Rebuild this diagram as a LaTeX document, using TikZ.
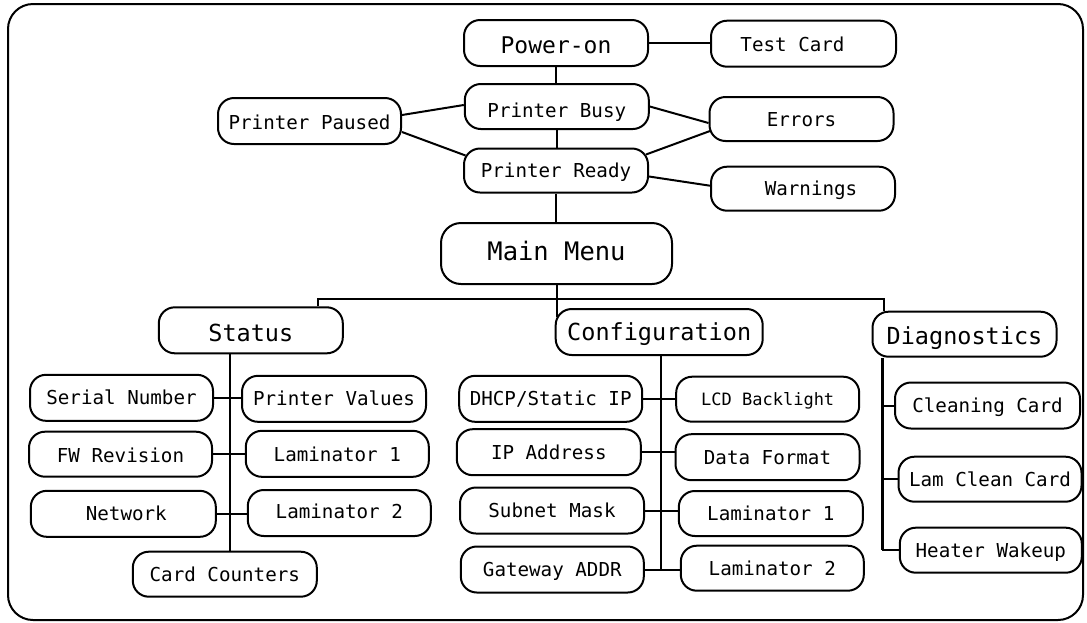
\documentclass[tikz,border=0pt]{standalone}
\usepackage{fontspec}
\newfontfamily\monof{DejaVu Sans Mono}
\begin{document}
\begin{tikzpicture}[x=1pt,y=-1pt,
  mbox/.style={draw, line width=2pt, rounded corners=16pt, inner sep=0pt,
    font=\monof\fontsize{19.2}{23}\selectfont, text height=14pt, text depth=0pt},
  head/.style={font=\monof\fontsize{23.5}{28}\selectfont, text height=17.2pt},
  conn/.style={line width=2pt}]
\useasboundingbox (0,0) rectangle (1087,622);
\draw[line width=2pt, rounded corners=25pt] (8,4) rectangle (1083,620);
% top part
\node[mbox, font=\monof\fontsize{23}{28}\selectfont, text height=16.8pt, minimum width=184pt, minimum height=46pt] (power) at (556,43) {\raisebox{-2pt}{Power-on}};
\node[mbox, minimum width=185pt, minimum height=46pt] (test) at (803.5,43.7) {\raisebox{-1pt}{Test Card}\hspace*{22pt}};
\node[mbox, minimum width=183pt, minimum height=46pt] (paused) at (309.5,121) {\raisebox{-1.5pt}{Printer Paused}};
\node[mbox, minimum width=184pt, minimum height=45pt] (busy) at (556.8,106.5) {\raisebox{-4pt}{Printer Busy}};
\node[mbox, minimum width=184pt, minimum height=44pt] (errors) at (801.5,119) {Errors};
\node[mbox, minimum width=184pt, minimum height=44pt] (ready) at (556,170.5) {Printer Ready};
\node[mbox, minimum width=184pt, minimum height=44pt] (warn) at (803,188.7) {\hspace*{16pt}Warnings};
\node[mbox, rounded corners=20pt, font=\monof\fontsize{25.5}{30}\selectfont, text height=18.6pt, minimum width=231pt, minimum height=61pt] (main) at (556.5,253.5) {\raisebox{2.5pt}{Main Menu}};
% level 2
\node[mbox, head, minimum width=184pt, minimum height=46pt] (status) at (250.8,330.3) {\raisebox{-2.5pt}{Status}};
\node[mbox, head, minimum width=207pt, minimum height=46pt] (cfg) at (659.2,332) {Configuration};
\node[mbox, head, minimum width=184pt, minimum height=45pt] (diag) at (964.5,334.2) {\raisebox{-2pt}{Diagnostics}};
% status children
\node[mbox, minimum width=183pt, minimum height=46pt] (sn) at (121.5,397.8) {Serial Number};
\node[mbox, minimum width=184pt, minimum height=46pt] (pv) at (334,398.8) {Printer Values};
\node[mbox, minimum width=183pt, minimum height=45pt] (fw) at (120.5,454.2) {\raisebox{-1.5pt}{FW Revision}};
\node[mbox, minimum width=183pt, minimum height=46pt] (lamAs) at (337.3,453.8) {\raisebox{-1pt}{Laminator 1}};
\node[mbox, minimum width=185pt, minimum height=46pt] (net) at (123.3,513.8) {\hspace*{6pt}Network};
\node[mbox, minimum width=183pt, minimum height=46pt] (lamBs) at (339.3,513) {\raisebox{1.8pt}{Laminator 2}};
\node[mbox, minimum width=184pt, minimum height=45pt] (cc) at (224.8,574.2) {Card Counters};
% configuration children
\node[mbox, minimum width=183pt, minimum height=46pt] (dhcp) at (550.7,398.8) {DHCP/Static IP};
\node[mbox, font=\monof\fontsize{17}{20}\selectfont, text height=12.4pt, minimum width=183pt, minimum height=45pt] (lcd) at (767.7,399.2) {LCD Backlight};
\node[mbox, minimum width=184pt, minimum height=46pt] (ip) at (548.8,452.2) {IP Address};
\node[mbox, minimum width=184pt, minimum height=46pt] (df) at (767.5,457.2) {Data Format};
\node[mbox, minimum width=184pt, minimum height=46pt] (sub) at (552,510.5) {Subnet Mask};
\node[mbox, minimum width=184pt, minimum height=45pt] (lamAc) at (770.8,513.5) {Laminator 1};
\node[mbox, minimum width=183pt, minimum height=46pt] (gw) at (552.3,569.5) {Gateway ADDR};
\node[mbox, minimum width=183pt, minimum height=45pt] (lamBc) at (772.3,568.2) {Laminator 2};
% diagnostics children
\node[mbox, minimum width=185pt, minimum height=46pt] (clean) at (987.5,405.5) {Cleaning Card};
\node[mbox, minimum width=183pt, minimum height=45pt] (lamclean) at (990,479.2) {Lam Clean Card};
\node[mbox, minimum width=182pt, minimum height=45pt] (heater) at (990.8,550.2) {Heater Wakeup};
% coordinates
\coordinate (busL) at (318,299);
\coordinate (busR) at (883.7,299);
\coordinate (cfgtop) at (556.5,317);
\coordinate (sv) at (230,0);
\coordinate (cv) at (660.7,0);
\coordinate (dv) at (882.3,0);
% connectors top
\draw[conn] (power.east) -- (power.east -| test.west);
\draw[conn] (power.south) -- (power.south |- busy.north);
\draw[conn] (busy.south) -- (busy.south |- ready.north);
\draw[conn] (ready.south) -- (ready.south |- main.north);
\draw[conn] ([yshift=6pt]paused.east) -- ([yshift=1.5pt]busy.west);
\draw[conn] ([yshift=-11pt]paused.east) -- ([xshift=2.5pt,yshift=15pt]ready.west);
\draw[conn] (busy.east) -- ([yshift=-4pt]errors.west);
\draw[conn] ([xshift=-3pt,yshift=16pt]ready.east) -- ([xshift=1.5pt,yshift=-12pt]errors.west);
\draw[conn] ([yshift=-6pt]ready.east) -- ([yshift=3pt]warn.west);
% main menu and bus
\draw[conn] (main.south) -- (cfgtop);
\draw[conn] (busL |- status.north) -- (busL) -- (busR) -- (busR |- diag.north);
% status branch
\draw[conn, line width=2.6pt] (sv |- status.south) -- (sv |- cc.north);
\draw[conn] (sn.east) -- (sn.east -| pv.west);
\draw[conn] (fw.east) -- (fw.east -| lamAs.west);
\draw[conn] (net.east) -- (net.east -| lamBs.west);
% configuration branch
\draw[conn] (cv |- cfg.south) -- (cv |- gw.east);
\draw[conn] (dhcp.east) -- (dhcp.east -| lcd.west);
\draw[conn] (ip.east) -- (ip.east -| df.west);
\draw[conn] (sub.east) -- (sub.east -| lamAc.west);
\draw[conn] (gw.east) -- (gw.east -| lamBc.west);
% diagnostics branch
\draw[conn, line width=2.4pt] (dv |- diag.south) -- (dv |- heater.west);
\draw[conn] (dv |- clean.west) -- (clean.west);
\draw[conn] (dv |- lamclean.west) -- (lamclean.west);
\draw[conn] (dv |- heater.west) -- (heater.west);
\end{tikzpicture}
\end{document}
